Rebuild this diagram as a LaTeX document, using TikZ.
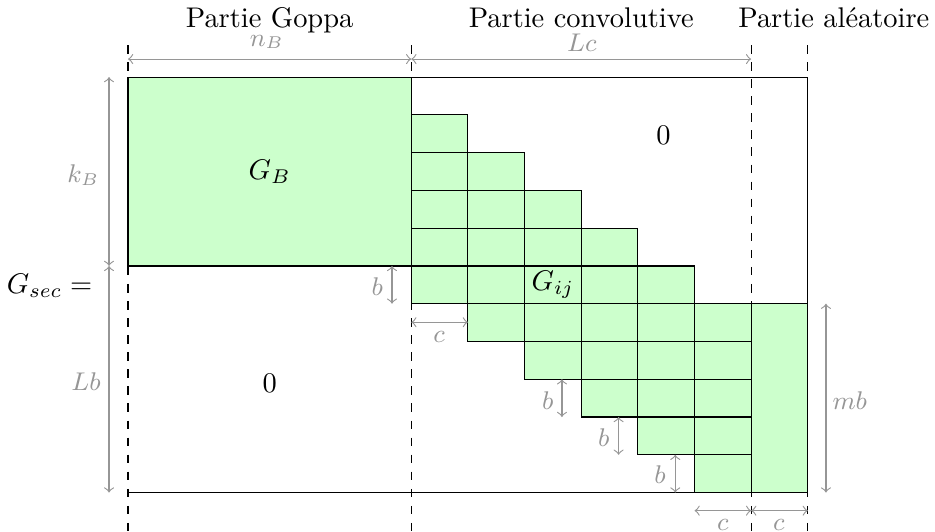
\documentclass[tikz,border=0pt]{standalone}
\usepackage{fontspec}
\definecolor{cellgreen}{RGB}{204,255,204}
\definecolor{dimgray}{RGB}{150,150,150}
\begin{document}
\begin{tikzpicture}[x=0.7cm,y=-0.46667cm,
  dim/.style={draw=dimgray,<->,line width=0.4pt},
  dimlabel/.style={text=dimgray,font=\small},
  cell/.style={fill=cellgreen,draw=black},
  sepline/.style={draw=black,dashed},
  title/.style={anchor=base,inner sep=0pt}]
\useasboundingbox (-2.2595,-2.041) rectangle (14.245,12.033);
% Goppa block
\draw[cell] (0,0) rectangle (5,5);
\node (GB) at (2.5,2.5) {$G_B$};
% convolutive staircase
\foreach \j in {0,...,5}{
  \foreach \k in {0,...,4}{
    \draw[cell] ({5+\j},{1+\j+\k}) rectangle ({6+\j},{2+\j+\k});
  }
}
% random part
\draw[cell] (11,6) rectangle (12,11);
% outline
\draw (0,0) -- (12,0) -- (12,11) -- (0,11);
% separators
\foreach \x in {0,5,11,12} \draw[sepline] (\x,-0.848) -- (\x,12.1);
% labels in blocks
\node (Gij) at (7.5,5.5) {$G_{ij}$};
\node (zeroA) at (9.45,1.54) {$0$};
\node (zeroB) at (2.5,8.1) {$0$};
\node[anchor=base east,inner sep=0pt] (Gsec) at (-0.62,5.72) {$G_{sec} =$};
% titles
\node[title] (t1) at (2.5,-1.325) {Partie Goppa};
\node[title] (t2) at (8,-1.325) {Partie convolutive};
\node[title] (t3) at (12.46,-1.325) {Partie aléatoire};
% top dimensions
\draw[dim] (0,-0.477) -- (5,-0.477);
\node[dimlabel] (nB) at (2.45,-0.93) {$n_B$};
\draw[dim] (5,-0.477) -- (11,-0.477);
\node[dimlabel] (Lc) at (8.01,-0.90) {$Lc$};
% left dimensions
\draw[dim] (-0.335,0) -- (-0.335,5);
\node[dimlabel] (kB) at (-0.79,2.6) {$k_B$};
\draw[dim] (-0.335,5) -- (-0.335,11);
\node[dimlabel] (Lb) at (-0.74,8.06) {$Lb$};
% b and c dimensions
\draw[dim] (4.66,5) -- (4.66,6);
\node[dimlabel] (b1) at (4.40,5.54) {$b$};
\draw[dim] (5,6.49) -- (6,6.49);
\node[dimlabel] (c1) at (5.49,6.89) {$c$};
\draw[dim] (7.66,8) -- (7.66,9);
\node[dimlabel] (b2) at (7.41,8.56) {$b$};
\draw[dim] (8.66,9) -- (8.66,10);
\node[dimlabel] (b3) at (8.40,9.54) {$b$};
\draw[dim] (9.66,10) -- (9.66,11);
\node[dimlabel] (b4) at (9.39,10.52) {$b$};
\draw[dim] (10,11.48) -- (11,11.48);
\node[dimlabel] (c2) at (10.5,11.87) {$c$};
\draw[dim] (11,11.48) -- (12,11.48);
\node[dimlabel] (c3) at (11.49,11.87) {$c$};
\draw[dim] (12.32,6) -- (12.32,11);
\node[dimlabel] (mb) at (12.74,8.56) {$mb$};
\end{tikzpicture}
\end{document}
